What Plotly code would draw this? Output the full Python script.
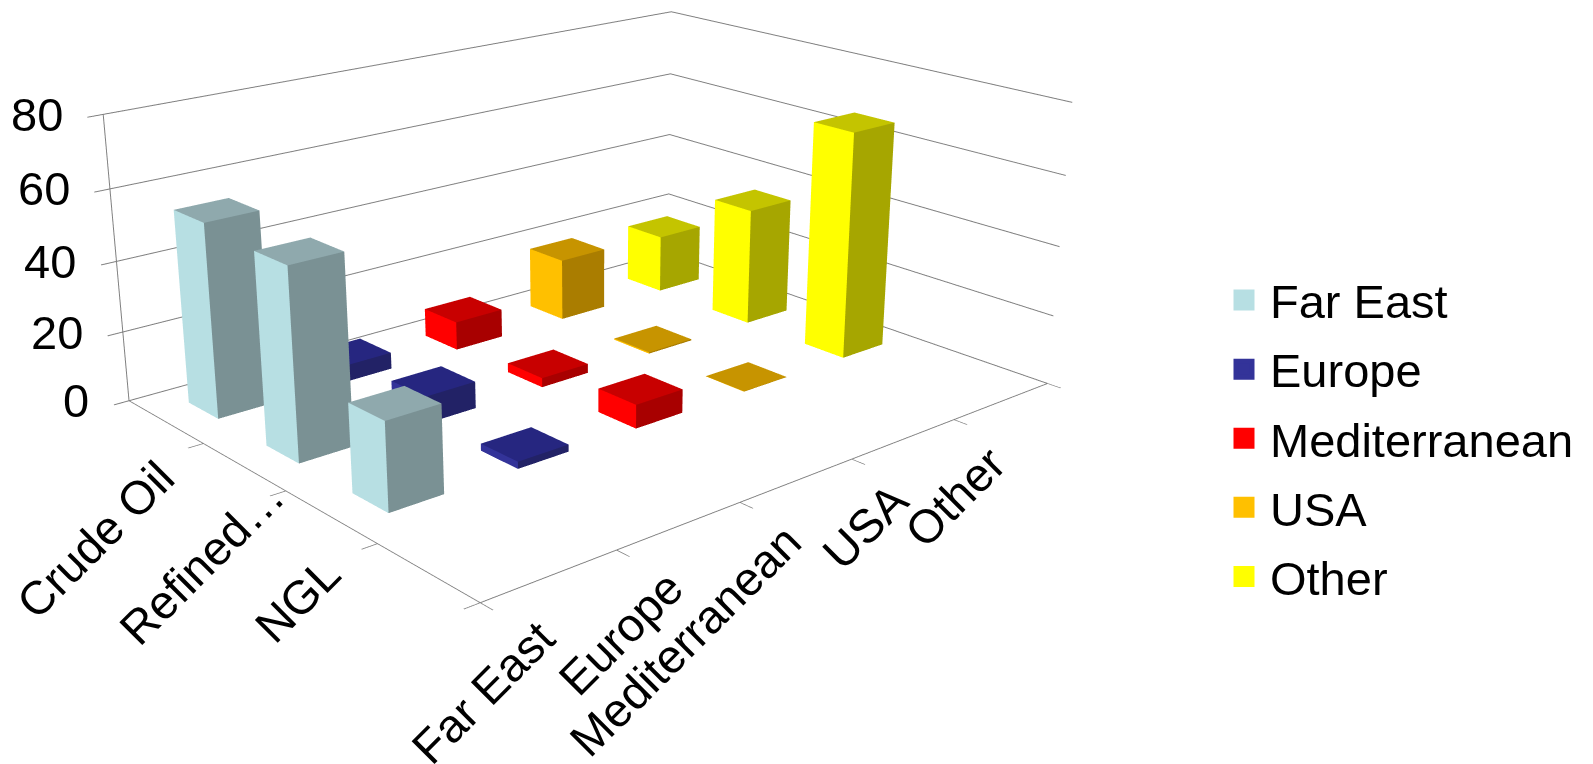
import plotly.graph_objects as go

columns = ["Far East", "Europe", "Mediterranean", "USA", "Other"]
rows = ["Crude Oil", "Refined…", "NGL", ""]
crude_oil = [54.7, 4.8, 8.4, 18.5, 17.5]
refined = [53, 7.7, 2.7, 0.4, 35]
ngl = [24.1, 2, 6.8, 0.1, 66.5]
blank = [0, 0, 0, 0, 0]
values = [crude_oil, refined, ngl, blank]
z_ticks = [0, 20, 40, 60, 80]
front_colors = ["#B7DFE3", "#333399", "#FF0000", "#FFC000", "#FFFF00"]
side_colors = ["#7A9194", "#222266", "#A80000", "#AA7D00", "#A6A600"]
top_colors = ["#8FA9AD", "#262680", "#C80000", "#C79400", "#C4C400"]

W, H = 1593, 1718
SHIFT_UP = 475
BAR_X = 0.418
BAR_Y = 0.39
row_label_shift = [(22, -26), (53, 0), (23, -27), (0, 0)]

fig = go.Figure()
for c, name in enumerate(columns):
    xs, ys, zs, ii, jj, kk, fc = [], [], [], [], [], [], []
    for r in range(len(rows)):
        v = values[r][c]
        if v <= 0:
            continue
        x0, x1 = c + .5 - BAR_X / 2, c + .5 + BAR_X / 2
        yc = len(rows) - 1 - r + .5
        y0, y1 = yc - BAR_Y / 2, yc + BAR_Y / 2
        b = len(xs)
        xs += [x0, x1, x1, x0, x0, x1, x1, x0]
        ys += [y0, y0, y1, y1, y0, y0, y1, y1]
        zs += [0, 0, 0, 0, v, v, v, v]
        faces = [((0, 3, 7), front_colors[c]), ((0, 7, 4), front_colors[c]),
                 ((0, 1, 5), side_colors[c]), ((0, 5, 4), side_colors[c]),
                 ((4, 5, 6), top_colors[c]), ((4, 6, 7), top_colors[c])]
        for (p, q, s), col in faces:
            ii.append(b + p); jj.append(b + q); kk.append(b + s); fc.append(col)
    fig.add_trace(go.Mesh3d(x=xs, y=ys, z=zs, i=ii, j=jj, k=kk, facecolor=fc, flatshading=True,
                            lighting=dict(ambient=1, diffuse=0, specular=0, fresnel=0),
                            name=name, showlegend=False, hoverinfo="name"))
    fig.add_trace(go.Scatter3d(x=[None], y=[None], z=[None], mode="markers", name=name,
                               legendgroup=name,
                               marker=dict(symbol="square", size=16, color=front_colors[c],
                                           line=dict(width=5, color=front_colors[c]))))

font = dict(family="Liberation Sans", size=47, color="#000000")
ann = []
for c, name in enumerate(columns):
    ann.append(dict(x=c + .5, y=0, z=0, text=name, textangle=-45, showarrow=False,
                    xanchor="right", yanchor="top", xshift=17, yshift=-32, font=font))
for r, name in enumerate(rows):
    if name:
        ann.append(dict(x=0, y=len(rows) - 1 - r + .5, z=0, text=name, textangle=-45, showarrow=False,
                        xanchor="right", yanchor="top", xshift=row_label_shift[r][0],
                        yshift=row_label_shift[r][1], font=font))
for t in z_ticks:
    ann.append(dict(x=0, y=4, z=t, text=str(t), showarrow=False, xanchor="right", yanchor="middle",
                    xshift=-38, font=font))

axis_common = dict(showbackground=False, title=dict(text=""), showticklabels=False, zeroline=False,
                   showspikes=False, showline=True, linecolor="#7F7F7F", linewidth=2,
                   ticks="outside", ticklen=14, tickcolor="#7F7F7F", tickwidth=2)
legend_top = 255 + SHIFT_UP
fig.update_layout(
    width=W, height=H, margin=dict(l=0, r=0, t=0, b=0), paper_bgcolor="white",
    font=dict(family="Liberation Sans", color="#000000"),
    legend=dict(x=1210 / W, y=1 - legend_top / H, xanchor="left", yanchor="top", font=dict(size=47),
                bgcolor="rgba(0,0,0,0)", tracegroupgap=5, itemclick=False, itemwidth=42),
    scene=dict(
        domain=dict(x=[0, 1170 / W], y=[0, 1]),
        aspectmode="manual", aspectratio=dict(x=1.284, y=1, z=0.513),
        xaxis=dict(range=[0, 5], tickvals=list(range(6)), showgrid=False, **axis_common),
        yaxis=dict(range=[0, 4], tickvals=list(range(5)), showgrid=False, **axis_common),
        zaxis=dict(range=[0, 80], tickvals=z_ticks, showgrid=True, gridcolor="#7F7F7F", gridwidth=2, **axis_common),
        camera=dict(up=dict(x=0, y=0, z=1),
                    center=dict(x=0, y=0, z=-.2565),
                    eye=dict(x=-2.225, y=-2.578, z=1.113)),
        annotations=ann,
    ),
)
fig.write_html("out.html", post_script=(
    "document.documentElement.style.overflow='hidden';document.body.style.overflow='hidden';"
    "document.getElementById('{plot_id}').style.transform='translateY(-%dpx)';" % SHIFT_UP))
